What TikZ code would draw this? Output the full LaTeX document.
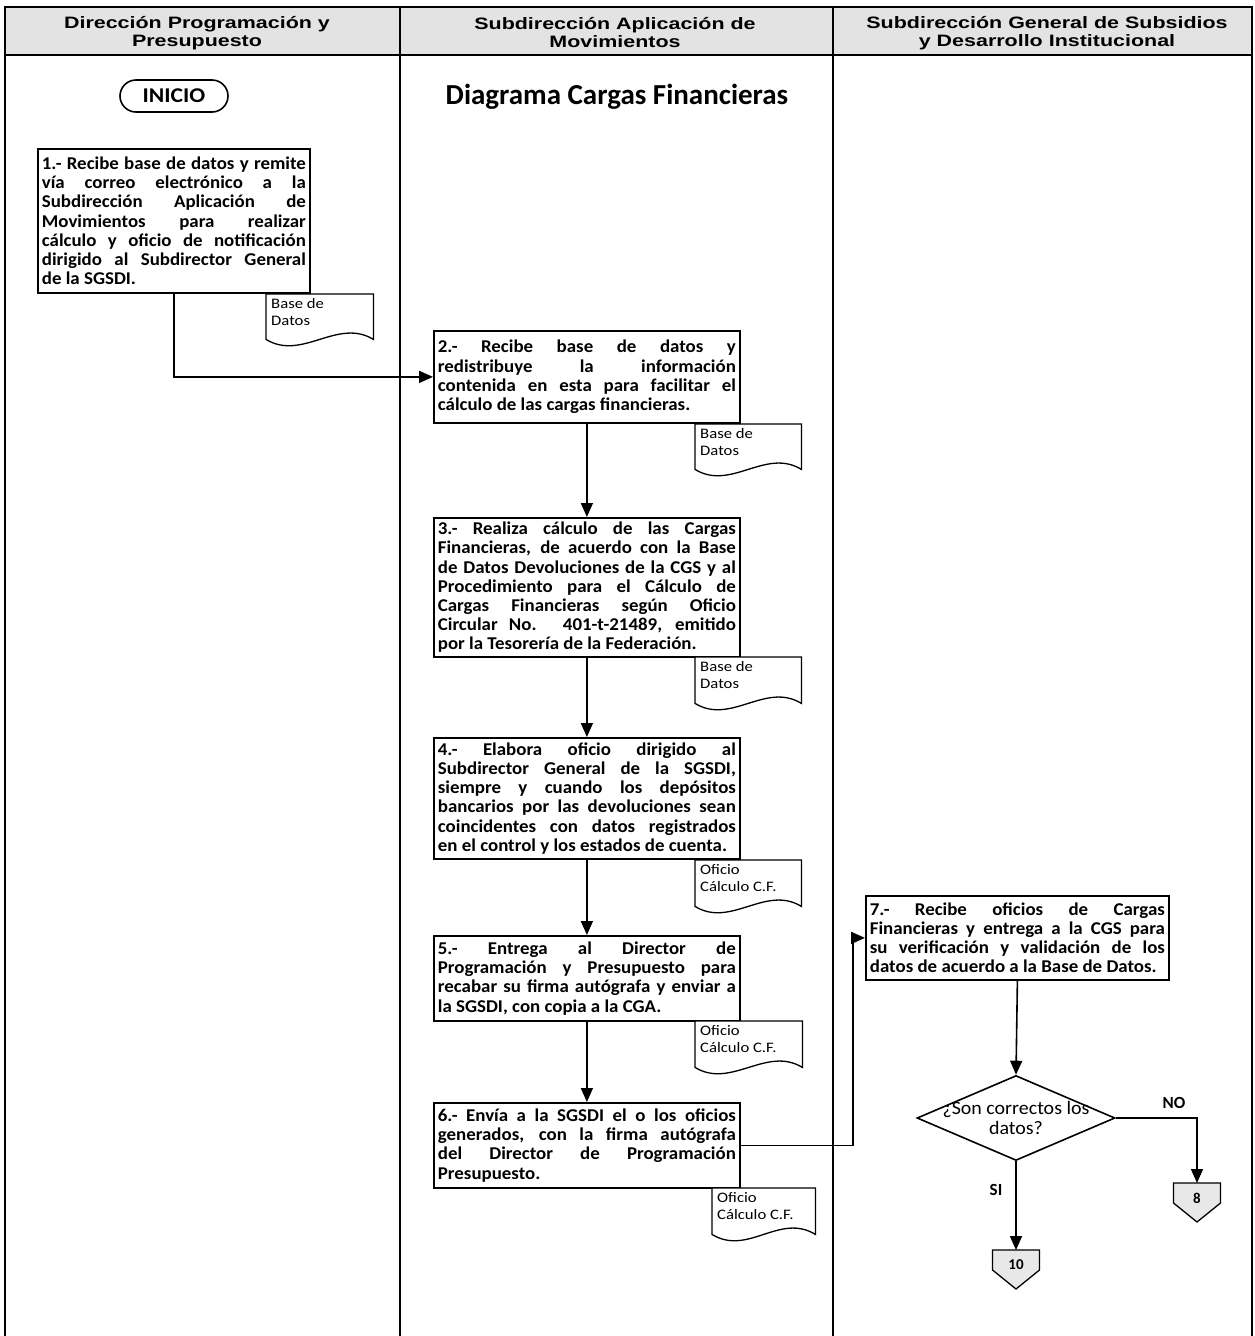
\documentclass[tikz,border=0pt]{standalone}
\usepackage{fontspec}
\setmainfont{Carlito}
\newfontfamily\hdrfont[FakeStretch=1.3]{Liberation Sans}
\newfontfamily\boxfont[FakeStretch=1.05]{Carlito}
\newfontfamily\docfont[FakeStretch=1.15]{Carlito}
\newfontfamily\startfont[FakeStretch=1.12]{Carlito}
\usetikzlibrary{arrows.meta,calc,shapes.geometric}
\tolerance=10000
\hbadness=10000

% document symbol: outline with wavy bottom, label in the upper left corner
\newcommand\docnode[5]{% name, north-west corner, width, height, label
  \node[docbox, minimum width=#3, minimum height=#4] (#1) at #2 {};
  \draw[docline] (#1.north west) -- (#1.north east) -- (#1.south east)
    .. controls ($(#1.south east)+(-36,-22)$) and ($(#1.south west)+(36,22)$) .. (#1.south west) -- cycle;
  \node[doctext] (#1t) at (#1.north west) {#5};
}
% off-page connector: pentagon pointing down
\newcommand\offpage[3]{% name, top centre, label
  \coordinate (#1) at #2;
  \draw[offline] ($(#1)+(-23.5,0)$) -- ($(#1)+(23.5,0)$) -- ($(#1)+(23.5,20)$)
    -- ($(#1)+(0,39)$) -- ($(#1)+(-23.5,20)$) -- cycle;
  \node[offtext] (#1t) at ($(#1)+(0,15)$) {#3};
}

\begin{document}
\begin{tikzpicture}[x=1pt,y=-1pt,
  frame/.style={line width=2pt, line cap=rect},
  hdr/.style={font=\hdrfont\bfseries\fontsize{16.5}{18}\selectfont, align=center, inner sep=0pt},
  stepbox/.style={draw, line width=1.8pt, fill=white, anchor=north west,
    inner xsep=4pt, inner ysep=2pt, align=justify,
    font=\boxfont\bfseries\fontsize{18}{19.2}\selectfont},
  docbox/.style={anchor=north west, inner sep=0pt},
  docline/.style={draw, line width=1.3pt, fill=white},
  doctext/.style={anchor=north west, inner xsep=5pt, inner ysep=4pt, align=left,
    font=\docfont\fontsize{14.5}{17}\selectfont},
  offline/.style={draw, line width=1.3pt, fill=gray!18},
  offtext/.style={font=\bfseries\fontsize{15}{16}\selectfont, inner sep=0pt},
  flow/.style={line width=1.6pt, -{Triangle[length=14pt,width=12pt]}},
  lbl/.style={font=\bfseries\fontsize{17}{18}\selectfont, inner sep=0pt}
]
\useasboundingbox (0,0) rectangle (1254,1336);

% swimlane frame and header
\fill[gray!22] (5,7) rectangle (1252,55);
\draw[frame] (5,1336) -- (5,7) -- (1252,7) -- (1252,1336);
\draw[frame] (400,7) -- (400,1336);
\draw[frame] (833,7) -- (833,1336);
\draw[line width=2.6pt] (5,55) -- (1252,55);

\node[hdr] (h1) at (197,33) {Dirección Programación y\\Presupuesto};
\node[hdr] (h2) at (615,33) {Subdirección Aplicación de\\Movimientos};
\node[hdr] (h3) at (1047,33) {Subdirección General de Subsidios\\y Desarrollo Institucional};

% start and title
\node[draw, line width=1.6pt, rounded corners=16pt, minimum width=108pt, minimum height=32pt,
  font=\startfont\bfseries\fontsize{21}{22}\selectfont] (ini) at (174,96) {INICIO};
\node[font=\bfseries\fontsize{29}{30}\selectfont, inner sep=0pt] (ttl) at (617,97) {Diagrama Cargas Financieras};

% process steps
\node[stepbox, text width=264pt, minimum height=144pt] (b1) at (37,148)
 {1.- Recibe base de datos y remite\linebreak vía correo electrónico a la\linebreak Subdirección Aplicación de\linebreak Movimientos para realizar\linebreak cálculo y oficio de notificación\linebreak dirigido al Subdirector General\linebreak de la SGSDI.};
\node[stepbox, text width=298pt, minimum height=92pt] (b2) at (433,330)
 {2.- Recibe base de datos y\linebreak redistribuye la información\linebreak contenida en esta para facilitar el\linebreak cálculo de las cargas financieras.};
\node[stepbox, text width=298pt, minimum height=139pt] (b3) at (433,517)
 {3.- Realiza cálculo de las Cargas\linebreak Financieras, de acuerdo con la Base\linebreak de Datos Devoluciones de la CGS y al\linebreak Procedimiento para el Cálculo de\linebreak Cargas Financieras según Oficio\linebreak Circular No. 401-t-21489, emitido\linebreak por la Tesorería de la Federación.};
\node[stepbox, text width=298pt, minimum height=121pt] (b4) at (433,737)
 {4.- Elabora oficio dirigido al\linebreak Subdirector General de la SGSDI,\linebreak siempre y cuando los depósitos\linebreak bancarios por las devoluciones sean\linebreak coincidentes con datos registrados\linebreak en el control y los estados de cuenta.};
\node[stepbox, text width=298pt, minimum height=85pt] (b5) at (433,935)
 {5.- Entrega al Director de\linebreak Programación y Presupuesto para\linebreak recabar su firma autógrafa y enviar a\linebreak la SGSDI, con copia a la CGA.};
\node[stepbox, text width=298pt, minimum height=85pt] (b6) at (433,1102)
 {6.- Envía a la SGSDI el o los oficios\linebreak generados, con la firma autógrafa\linebreak del Director de Programación\linebreak Presupuesto.};
\node[stepbox, text width=295pt, minimum height=84pt] (b7) at (865,895)
 {7.- Recibe oficios de Cargas\linebreak Financieras y entrega a la CGS para\linebreak su verificación y validación de los\linebreak datos de acuerdo a la Base de Datos.};

% documents produced by each step
\docnode{d1}{(266,294)}{107pt}{45pt}{Base de\\Datos}
\docnode{d2}{(695,424)}{106pt}{45pt}{Base de\\Datos}
\docnode{d3}{(695,657)}{106pt}{46pt}{Base de\\Datos}
\docnode{d4}{(695,860)}{106pt}{46pt}{Oficio\\Cálculo C.F.}
\docnode{d5}{(695,1021)}{107pt}{46pt}{Oficio\\Cálculo C.F.}
\docnode{d6}{(712,1188)}{103pt}{46pt}{Oficio\\Cálculo C.F.}

% decision
\node[diamond, draw, line width=1.6pt, fill=white, minimum width=198pt, minimum height=85pt, inner sep=0pt] (dec) at (1016,1118) {};
\node[font=\boxfont\fontsize{19}{19.5}\selectfont, align=center, inner sep=0pt] (dect) at (1016,1118) {¿Son correctos los\\datos?};

% off-page connectors
\offpage{c8}{(1197,1183)}{8}
\offpage{c10}{(1016,1250)}{10}

% flow
\draw[flow] (b1.south) |- (b2.west);
\draw[flow] (b2.south) -- (b3.north);
\draw[flow] (b3.south) -- (b4.north);
\draw[flow] (b4.south) -- (b5.north);
\draw[flow] (b5.south) -- (b6.north);
\coordinate (j67) at (853,0);
\draw[flow] (b6.east) -- (b6.east -| j67) -- (b7.west -| j67) -- (b7.west);
\draw[flow] (b7.south) -- (dec.north);
\draw[flow] (dec.east) -| (c8);
\draw[flow] (dec.south) -- (c10);
\node[lbl] (no) at (1174,1103) {NO};
\node[lbl] (si) at (996,1190) {SI};
\end{tikzpicture}
\end{document}
